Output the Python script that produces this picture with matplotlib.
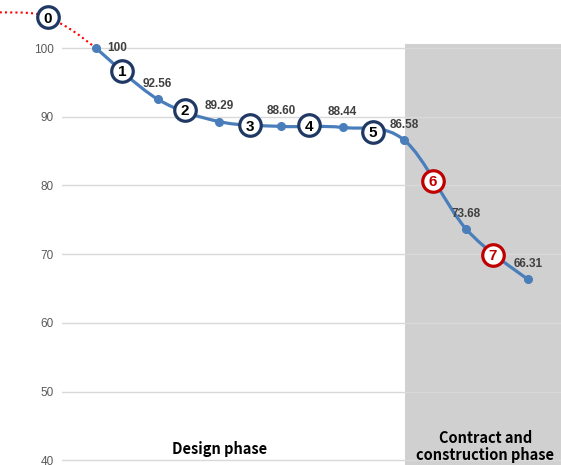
import numpy as np
import matplotlib.pyplot as plt
from matplotlib.path import Path
from matplotlib.patches import PathPatch, Rectangle

# Data
values = [100, 92.56, 89.29, 88.60, 88.44, 86.58, 73.68, 66.31]
value_labels = ["100", "92.56", "89.29", "88.60", "88.44", "86.58", "73.68", "66.31"]

# numbered step markers (position along the curve, value)
step_nums = ["0", "1", "2", "3", "4", "5", "6", "7"]
step_x = [-0.78, 0.42, 1.44, 2.50, 3.45, 4.49, 5.46, 6.43]
step_y = [104.5, 96.7, 91.0, 88.8, 88.8, 87.8, 80.7, 69.9]
step_colors = ["#1f3864"] * 6 + ["#c00000"] * 2

# red dotted lead-in before the first value
lead_x = [-1.56, -1.07, -0.78, -0.39, 0.0]
lead_y = [105.2, 105.1, 104.5, 102.6, 100.0]

yticks = [40, 50, 60, 70, 80, 90, 100]


def smooth_path(xs, ys):
    # Catmull-Rom style bezier, like Excel's smoothed line
    pts = np.column_stack([xs, ys]).astype(float)
    verts = [pts[0]]
    codes = [Path.MOVETO]
    n = len(pts)
    for i in range(n - 1):
        p0 = pts[i - 1] if i > 0 else pts[i]
        p1 = pts[i]
        p2 = pts[i + 1]
        p3 = pts[i + 2] if i + 2 < n else pts[i + 1]
        c1 = p1 + (p2 - p0) / 6
        c2 = p2 - (p3 - p1) / 6
        verts += [c1, c2, p2]
        codes += [Path.CURVE4] * 3
    return Path(verts, codes)


fig = plt.figure(figsize=(5.61, 4.65), dpi=100)
ax = fig.add_axes([62 / 561, 0, 499 / 561, 1])

x = np.arange(len(values))
ax.set_xlim(-0.551, 7.54)
ax.set_ylim(39.3, 107.0)

# gray construction phase block
ax.add_patch(Rectangle((5.01, 39.3), 3, 61.3, facecolor="#d0d0d0",
                       edgecolor="none", zorder=0.2))

ax.set_yticks(yticks)
ax.set_xticks([])
ax.grid(axis="y", color="#d9d9d9", linewidth=1)
ax.set_axisbelow(True)
for s in ax.spines.values():
    s.set_visible(False)
ax.tick_params(axis="y", length=0, pad=6, labelsize=8.5, labelcolor="#595959")
for t in ax.get_yticklabels():
    t.set_fontfamily("Liberation Sans")

# red dotted lead-in
ax.add_patch(PathPatch(smooth_path(lead_x, lead_y), facecolor="none",
                       edgecolor="red", linewidth=1.5, linestyle=(0, (1, 1.5)),
                       clip_on=False, zorder=2))

# main smoothed line
ax.add_patch(PathPatch(smooth_path(x, values), facecolor="none",
                       edgecolor="#4a7ebb", linewidth=2.3, zorder=3,
                       capstyle="round"))
ax.plot(x, values, "o", color="#4a7ebb", markersize=5.5, zorder=4)

# value labels
for i, (v, lab) in enumerate(zip(values, value_labels)):
    off = (15, 0) if i == 0 else (0, 11)
    ax.annotate(lab, (i, v), xytext=off, textcoords="offset points",
                ha="center", va="center", fontsize=8.5, fontweight="bold",
                color="#404040", fontfamily="Liberation Sans", zorder=6)

# numbered circles
for n, sx, sy, c in zip(step_nums, step_x, step_y, step_colors):
    ax.plot(sx, sy, "o", markersize=15.5, markerfacecolor="white",
            markeredgecolor=c, markeredgewidth=2.3, zorder=7, clip_on=False)
    ax.text(sx, sy, n, ha="center", va="center_baseline", fontsize=11,
            fontweight="bold", color="black" if c == "#1f3864" else c,
            fontfamily="Liberation Sans", zorder=8, clip_on=False)

# phase labels
ax.text(2.01, 41.6, "Design phase", ha="center", va="center", fontsize=10.5,
        fontweight="bold", fontfamily=["Noto Sans CJK KR", "DejaVu Sans"])
ax.text(6.31, 42.0, "Contract and\nconstruction phase", ha="center",
        va="center", fontsize=10.5, fontweight="bold", linespacing=1.05,
        fontfamily=["Noto Sans CJK KR", "DejaVu Sans"])

fig.savefig("out.png", dpi=100)
